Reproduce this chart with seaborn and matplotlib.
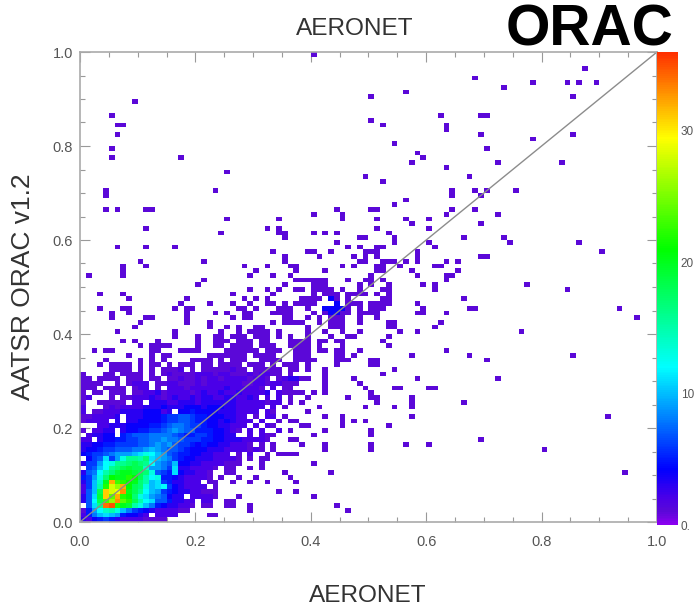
import numpy as np
import pandas as pd
import matplotlib
matplotlib.use('Agg')
import matplotlib.pyplot as plt
import seaborn as sns
from matplotlib.colors import LinearSegmentedColormap

# counts per cell, one letter per aeronet bin (base 36, . = empty), orac bin 0 first
dense_rows = [
    "324565322221111",
    "258aba954432.2222.....11",
    "159cefda86543222211..........1",
    ".7bgyzmkjfda85433221.11..11..1",
    "37cinqxomifcb7753322.22..11",
    "37bjvowmlhdb987433.22221...1",
    "27aivstxkigca96543322111",
    "26afmsqwlihdabc6432222.1",
    "36aekwnmlkhfab6533222.11..1..1..1",
    "569dhlkkmlifcd554322221.1..1..1",
    "378cfhjkkjihd765b433221..11",
    ".67acghijiie9986b3322221.11..1.1",
    "3669cdgghihgc987a44332222111...1",
    ".467b69dggfhba98654433322221.1.11",
    "45667899 9abdca9765544332 22.1.2..1".replace(' ', ''),
    "344566777889a98776544433322221 21.1".replace(' ', ''),
    "3344556666778 98976654544332221.1.1".replace(' ', ''),
    "22.344556677889887666554433322221",
    ".23344.56777888876556654433..2.21",
    "1.2233.344556678987755544321.2.2..2.1",
    "...22333444455678876654433222.2.21",
    "12222.3.3344445667765544343222.2..1",
    "1122223.333444566776554443322.1.22.1",
    "2.11222333344423.44544443332222.21",
    "2...1212222333433344434443322222.2.1",
    "1..11111.22.33322333233333322222122.1",
    "12...1.112223212322323322332232.2.2.1",
    "1.11.111.112231222212322322322223.21.11",
    "111.1111.122.1.22212222223222221.2.11",
    "1111..1.1222.11221112122222211221221.1",
    "11.1111.111.11.112112122122221221.1233",
    "1...11.1111.1.121111222122111212211.1",
    ".....1111.1.1.1112.1.11111211.11111.11",
    "...1.1111.1.11.1.111.11.1111.111.1.111.1....1.....11",
]

# single count cells: orac bin -> aeronet bins
sparse_rows = {
    99: [40], 96: [87], 94: [68], 93: [78, 84, 86, 89], 92: [73], 91: [56],
    90: [50, 85], 89: [9], 86: [5, 62, 69, 70], 85: [50], 84: [6, 7, 52, 63],
    83: [63], 82: [6, 69, 85], 81: [78], 80: [54], 79: [5, 70], 78: [58],
    77: [5, 17, 59], 76: [57, 72, 83], 75: [63], 74: [25], 73: [49, 67], 72: [52],
    70: [4, 23, 64, 68, 70, 75], 69: [4, 64, 69], 68: [56], 67: [54],
    66: [4, 6, 11, 12, 44, 50, 51, 64, 68], 65: [40, 45, 63, 72],
    64: [25, 34, 45, 51, 56, 60], 63: [57, 69], 62: [11, 32, 34, 51, 60],
    61: [24, 34, 35, 40, 42, 44, 53], 60: [35, 48, 49, 54, 66, 73],
    59: [44, 54, 60, 74, 86], 58: [6, 11, 16, 46, 48, 51, 52, 61],
    57: [33, 39, 40, 43, 49, 50, 51, 58, 90], 56: [35, 41, 47, 49, 51, 58, 69, 70],
    55: [10, 21, 35, 48, 49, 52, 53, 54, 56, 58, 63, 65],
    54: [7, 11, 28, 32, 36, 37, 45, 47, 51, 52, 55, 61, 62],
    53: [7, 30, 37, 42, 51, 52, 57, 65],
    52: [1, 7, 29, 33, 36, 50, 58, 63, 64],
    51: [21, 37, 38, 39, 40, 41, 42, 46, 49, 50, 52, 63],
    50: [20, 35, 40, 41, 42, 48, 50, 53, 59, 61, 77],
    49: [29, 32, 34, 37, 38, 40, 41, 42, 43, 45, 48, 52, 53, 61, 84],
    48: [3, 7, 26, 33, 40, 42, 43, 44, 46, 47, 48, 49, 51, 53],
    47: [8, 18, 28, 30, 32, 38, 39, 40, 41, 43, 44, 46, 52, 53, 66],
    46: [17, 22, 26, 29, 32, 33, 35, 37, 38, 39, 40, 44, 46, 47, 48, 50, 51, 52, 53, 58],
    45: [3, 7, 8, 16, 18, 19, 27, 28, 30, 34, 35, 36, 39, 42, 43, 44, 45, 46, 48, 50, 51, 52, 59, 67, 68, 93],
    44: [5, 8, 18, 23, 25, 28, 29, 33, 34, 35, 36, 40, 42, 43, 44, 45, 46, 48, 49, 50, 51, 58, 59, 63],
    43: [5, 11, 12, 18, 26, 28, 29, 35, 36, 39, 41, 43, 44, 45, 48, 51, 96],
    42: [10, 18, 22, 33, 35, 36, 37, 38, 41, 43, 44, 45, 48, 53, 54, 62],
    41: [9, 22, 25, 27, 30, 31, 39, 43, 44, 45, 53, 54, 61],
    40: [6, 16, 24, 27, 29, 30, 31, 32, 34, 39, 42, 45, 48, 55, 58, 76],
    39: [16, 20, 23, 24, 26, 27, 28, 30, 31, 32, 34, 36, 39, 43, 46, 47, 53],
    38: [7, 9, 13, 20, 23, 24, 25, 27, 28, 29, 31, 32, 36, 37, 38, 39, 41, 42, 44, 45, 52],
    37: [10, 12, 13, 14, 15, 20, 23, 24, 26, 27, 28, 29, 31, 32, 33, 36, 37, 38, 39, 41, 45, 53],
    36: [2, 4, 5, 12, 13, 17, 18, 19, 20, 25, 26, 27, 28, 29, 30, 32, 33, 34, 37, 38, 39, 41, 42, 44, 45, 48, 63],
    35: [8, 12, 14, 15, 22, 23, 24, 25, 26, 27, 28, 30, 31, 32, 33, 37, 38, 39, 44, 45, 47, 57, 67, 85],
    34: [4, 10, 12, 14, 19, 20, 21, 22, 24, 26, 27, 28, 31, 32, 33, 34, 37, 38, 39, 40, 44, 45, 46, 50, 51, 70],
    32: [39, 42, 54], 31: [42, 52], 30: [35, 36, 38, 39, 42, 47, 58, 72],
    29: [36, 42, 48], 28: [42, 49, 54, 55, 60, 61], 27: [36, 37, 40, 42, 50],
    26: [39, 46, 50, 51, 57], 25: [38, 51, 57, 66], 24: [41, 49, 54, 57],
    23: [39], 22: [42, 45, 57, 91], 21: [36, 37, 45, 47, 49], 20: [38, 39, 45, 53],
    19: [42, 50], 18: [32, 33, 40, 50], 17: [36, 37, 69], 16: [38, 42, 50, 56, 60],
    15: [42, 50, 80], 14: [34, 35, 36, 37], 12: [40], 10: [35, 43, 94], 9: [36],
    8: [37], 6: [34, 37], 5: [40], 3: [44], 2: [46],
}

# the little blue patch near 0.45, 0.45 has a few more counts
strong_rows = {45: [42, 43, 44, 45], 44: [43, 44], 46: [44], 47: [43]}
strong_count = 4

tick_values = [0.0, 0.2, 0.4, 0.6, 0.8, 1.0]
minor_values = [i * 0.05 for i in range(21)]
cbar_ticks = [0, 10, 20, 30]
cbar_labels = ['0.', '10', '20', '30']

grid = np.zeros((100, 100))
for r, line in enumerate(dense_rows):
    for c, ch in enumerate(line):
        if ch != '.':
            grid[r, c] = int(ch, 36)
for r, cols in sparse_rows.items():
    for c in cols:
        if grid[r, c] == 0:
            grid[r, c] = 1
for r, cols in strong_rows.items():
    for c in cols:
        grid[r, c] = strong_count
df = pd.DataFrame(grid)

# same kind of rainbow as the IDL colour table, purple at the bottom
stops = [(0.0, '#8a00f0'), (1 / 36, '#5a08d8'), (2 / 36, '#4a00e8'), (4.2 / 36, '#0000ff'),
         (12 / 36, '#00ffff'), (21 / 36, '#00ff00'), (29.5 / 36, '#ffff00'), (1.0, '#ff3000')]
rainbow = LinearSegmentedColormap.from_list('idl_rainbow', stops)

sns.set_style('white')
plt.rcParams['font.family'] = ['Liberation Sans', 'DejaVu Sans']

W, H = 696, 607
fig = plt.figure(figsize=(W / 100, H / 100), dpi=100)
ax = fig.add_axes([80 / W, 1 - 522 / H, 577 / W, 470 / H])
cax = fig.add_axes([657 / W, 1 - 525 / H, 21 / W, 473 / H])

sns.heatmap(df, mask=df == 0, cmap=rainbow, vmin=0, vmax=36, ax=ax, cbar_ax=cax,
            xticklabels=False, yticklabels=False, square=False)
ax.invert_yaxis()
ax.plot([0, 100], [0, 100], color='#8c8c8c', lw=1)

ax.set_xticks([v * 100 for v in tick_values])
ax.set_yticks([v * 100 for v in tick_values])
ax.set_xticklabels([f'{v:.1f}' for v in tick_values], fontsize=10.5, color='#555555')
ax.set_yticklabels([f'{v:.1f}' for v in tick_values], fontsize=10.5, color='#555555')
ax.set_xticks([v * 100 for v in minor_values], minor=True)
ax.set_yticks([v * 100 for v in minor_values], minor=True)
ax.tick_params(which='major', direction='in', length=7.5, width=0.8, color='#999999',
               top=True, right=True, bottom=True, left=True)
ax.tick_params(axis='x', which='major', pad=9)
ax.tick_params(axis='y', which='major', pad=5)
ax.tick_params(which='minor', direction='in', length=3.8, width=0.8, color='#999999',
               top=True, right=True, bottom=True, left=True)
for s in ax.spines.values():
    s.set_visible(True)
    s.set_color('#aaaaaa')
    s.set_linewidth(1.2)

cax.set_yticks(cbar_ticks)
cax.set_yticklabels(cbar_labels, fontsize=8.5, color='#555555')
cax.tick_params(length=0, pad=2)

fig.text(355 / W, 1 - 29 / H, 'AERONET', ha='center', va='center', fontsize=17.6, color='#333333')
fig.text(368 / W, 1 - 596 / H, 'AERONET', ha='center', va='center', fontsize=17.6, color='#333333')
fig.text(23 / W, 1 - 287 / H, 'AATSR ORAC v1.2', ha='center', va='center', rotation=90,
         fontsize=19, color='#333333')
fig.text(590 / W, 1 - 31 / H, 'ORAC', ha='center', va='center', fontsize=41, fontweight='bold',
         color='black')

fig.savefig('out.png', dpi=100)
